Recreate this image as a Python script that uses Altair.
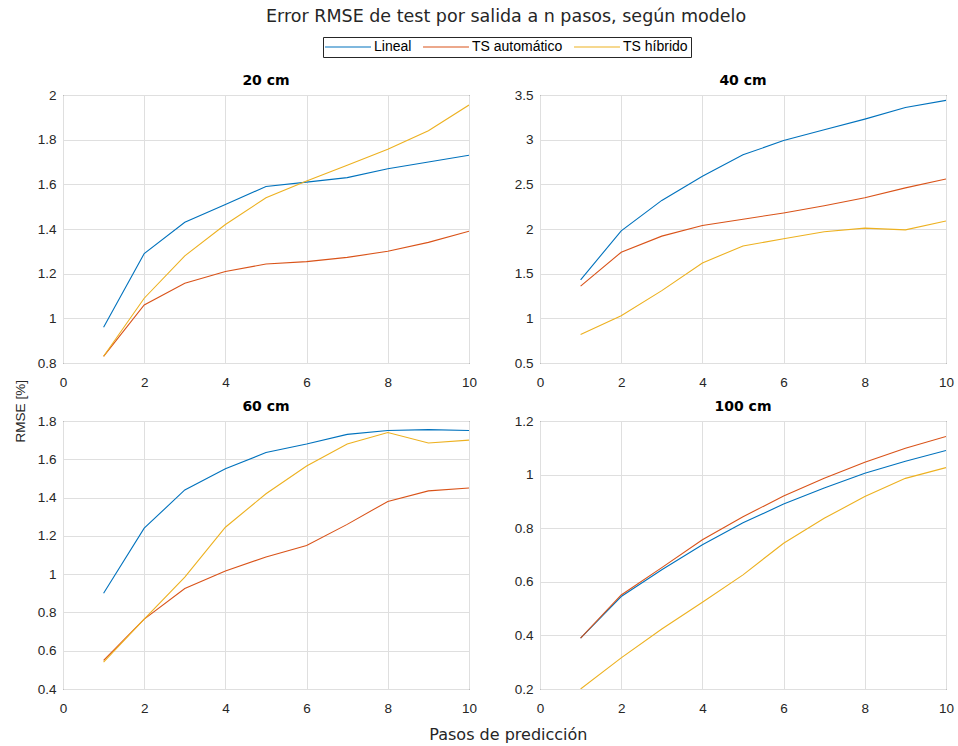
import altair as alt
import pandas as pd

pasos = list(range(1, 11))
modelos = ["Lineal", "TS automático", "TS híbrido"]
colores = ["#0072BD", "#D95319", "#EDB120"]
profundidades = ["20 cm", "40 cm", "60 cm", "100 cm"]

lineal_20 = [0.96, 1.29, 1.43, 1.51, 1.59, 1.61, 1.63, 1.67, 1.70, 1.73]
auto_20 = [0.83, 1.06, 1.157, 1.21, 1.243, 1.254, 1.273, 1.30, 1.34, 1.39]
hibrido_20 = [0.83, 1.09, 1.28, 1.42, 1.54, 1.615, 1.685, 1.757, 1.84, 1.955]

lineal_40 = [1.43, 1.98, 2.32, 2.59, 2.83, 2.99, 3.11, 3.23, 3.36, 3.44]
auto_40 = [1.36, 1.74, 1.92, 2.04, 2.11, 2.18, 2.26, 2.35, 2.46, 2.56]
hibrido_40 = [0.82, 1.03, 1.31, 1.62, 1.81, 1.89, 1.97, 2.01, 1.99, 2.09]

lineal_60 = [0.90, 1.24, 1.44, 1.55, 1.635, 1.68, 1.73, 1.75, 1.755, 1.75]
auto_60 = [0.55, 0.765, 0.925, 1.016, 1.09, 1.15, 1.26, 1.38, 1.435, 1.45]
hibrido_60 = [0.54, 0.765, 0.985, 1.245, 1.42, 1.565, 1.68, 1.74, 1.685, 1.70]

lineal_100 = [0.39, 0.545, 0.645, 0.738, 0.82, 0.89, 0.95, 1.005, 1.05, 1.09]
auto_100 = [0.39, 0.551, 0.653, 0.757, 0.843, 0.92, 0.986, 1.046, 1.098, 1.142]
hibrido_100 = [0.20, 0.316, 0.424, 0.524, 0.626, 0.744, 0.837, 0.918, 0.986, 1.026]

x_ticks = [0, 2, 4, 6, 8, 10]
y_ticks_20 = [0.8, 1.0, 1.2, 1.4, 1.6, 1.8, 2.0]
y_ticks_40 = [0.5, 1.0, 1.5, 2.0, 2.5, 3.0, 3.5]
y_ticks_60 = [0.4, 0.6, 0.8, 1.0, 1.2, 1.4, 1.6, 1.8]
y_ticks_100 = [0.2, 0.4, 0.6, 0.8, 1.0, 1.2]

series = {
    "20 cm": (lineal_20, auto_20, hibrido_20, y_ticks_20),
    "40 cm": (lineal_40, auto_40, hibrido_40, y_ticks_40),
    "60 cm": (lineal_60, auto_60, hibrido_60, y_ticks_60),
    "100 cm": (lineal_100, auto_100, hibrido_100, y_ticks_100),
}

rows = []
for prof, (l, a, h, _) in series.items():
    for modelo, vals in zip(modelos, (l, a, h)):
        for p, v in zip(pasos, vals):
            rows.append({"prof": prof, "modelo": modelo, "paso": p, "rmse": v})
df = pd.DataFrame(rows)

FONT = "Liberation Sans"
WIDE = "DejaVu Sans"
TXT = "#262626"

legend = alt.Legend(
    title=None,
    orient="none",
    direction="horizontal",
    legendX=260,
    legendY=-58,
    symbolType="M-4,0H4",
    symbolSize=132,
    symbolStrokeWidth=1.1,
    symbolOffset=15,
    labelOffset=19,
    columnPadding=8,
    labelFont=FONT,
    labelFontSize=14,
    labelColor="#000000",
    strokeColor=TXT,
    fillColor="#ffffff",
    padding=3,
)


def panel(prof):
    ticks = series[prof][3]
    d = df[df["prof"] == prof]
    return (
        alt.Chart(
            d,
            title=alt.TitleParams(
                prof, font=WIDE, fontSize=14, fontWeight="bold", color="#000000", offset=0
            ),
        )
        .mark_line(strokeWidth=1.1, clip=True)
        .encode(
            x=alt.X(
                "paso:Q",
                scale=alt.Scale(domain=[0, 10], nice=False),
                axis=alt.Axis(values=x_ticks, title=None, labelPadding=12, labelFlush=False),
            ),
            y=alt.Y(
                "rmse:Q",
                scale=alt.Scale(domain=[ticks[0], ticks[-1]], nice=False, zero=False),
                axis=alt.Axis(values=ticks, format="~g", title=None, labelPadding=7, labelFlush=False),
            ),
            color=alt.Color(
                "modelo:N",
                scale=alt.Scale(domain=modelos, range=colores),
                legend=legend,
            ),
        )
        .properties(width=406, height=268)
    )


grid = alt.concat(
    *[panel(p) for p in profundidades],
    columns=2,
    spacing={"row": 58, "column": 71},
    bounds="flush",
    title=alt.TitleParams(
        "Pasos de predicción", orient="bottom", font=WIDE, fontSize=16,
        fontWeight="normal", color=TXT, offset=12, anchor="middle", dx=13,
    ),
)

mid = alt.hconcat(
    grid,
    title=alt.TitleParams(
        "RMSE [%]", orient="left", font=FONT, fontSize=13.5,
        fontWeight="normal", color=TXT, offset=9, anchor="middle", dx=-3,
    ),
)

chart = (
    alt.vconcat(
        mid,
        title=alt.TitleParams(
            "Error RMSE de test por salida a n pasos, según modelo",
            font=WIDE, fontSize=17.5, fontWeight="normal", color=TXT,
            anchor="middle", offset=11, dx=22,
        ),
    )
    .properties(padding={"left": 14, "top": 8, "right": 0, "bottom": 4}, background="#ffffff")
    .configure_axis(
        labelFont=FONT,
        labelFontSize=13.5,
        labelColor=TXT,
        grid=True,
        gridColor="#dfdfdf",
        gridWidth=1,
        domain=False,
        ticks=False,
    )
    .configure_view(stroke=TXT, strokeWidth=1)
)

chart.save("out.html", embed_options={"renderer": "svg", "actions": False})
